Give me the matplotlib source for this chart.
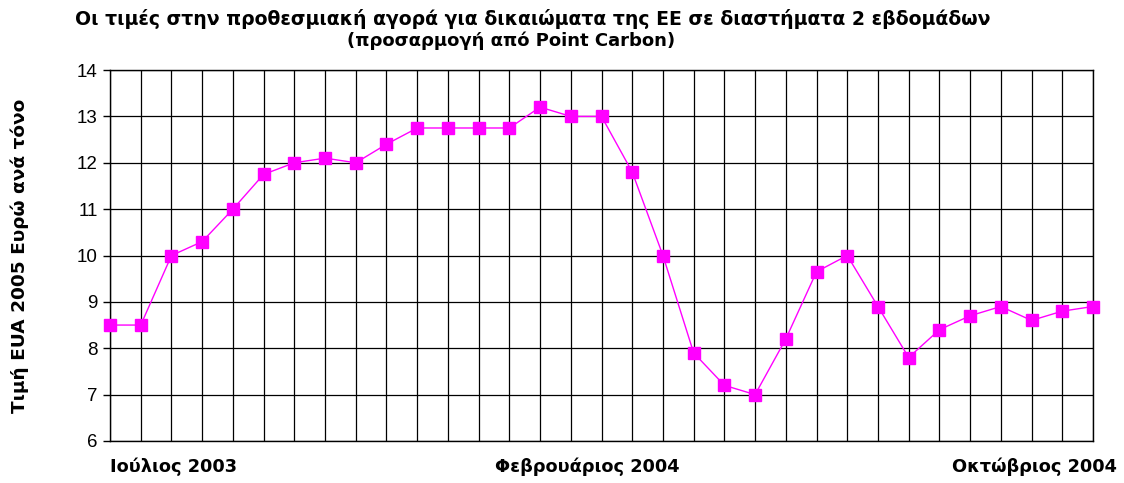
import matplotlib.pyplot as plt

plt.rcParams['font.family'] = ['Liberation Sans', 'DejaVu Sans']

# two-week intervals, Jul 2003 - Oct 2004
periods = list(range(33))
prices = [8.5, 8.5, 10.0, 10.3, 11.0, 11.75, 12.0, 12.1, 12.0, 12.4, 12.75,
          12.75, 12.75, 12.75, 13.2, 13.0, 13.0, 11.8, 10.0, 7.9, 7.2, 7.0,
          8.2, 9.65, 10.0, 8.9, 7.8, 8.4, 8.7, 8.9, 8.6, 8.8, 8.9]
yticks = [6, 7, 8, 9, 10, 11, 12, 13, 14]
month_labels = ['Ιούλιος 2003', 'Φεβρουάριος 2004', 'Οκτώβριος 2004']

wide = ['DejaVu Sans']

fig = plt.figure(figsize=(11.24, 4.83), dpi=100)
ax = fig.add_axes([0.0979, 0.087, 0.8745, 0.768])

ax.plot(periods, prices, color='#FF00FF', lw=1.0, marker='s', markersize=8.5,
        markerfacecolor='#FF00FF', markeredgecolor='#FF00FF', clip_on=False, zorder=3)

ax.set_xlim(0, 32)
ax.set_ylim(6, 14)
ax.set_yticks(yticks)
ax.set_xticks(periods)
ax.set_xticklabels([])
ax.tick_params(axis='x', length=0)
ax.tick_params(axis='y', length=5, width=1, labelsize=13.5, pad=4)
for lab in ax.get_yticklabels():
    lab.set_family('Liberation Sans')
ax.grid(True, color='black', lw=0.9)
ax.set_axisbelow(True)
for s in ax.spines.values():
    s.set_color('black')
    s.set_linewidth(1.0)

fig.text(0.0979, 0.022, month_labels[0], fontsize=12.8, fontweight='bold', ha='left', family=wide)
fig.text(0.5225, 0.022, month_labels[1], fontsize=12.8, fontweight='bold', ha='center', family=wide)
fig.text(0.994, 0.022, month_labels[2], fontsize=12.8, fontweight='bold', ha='right', family=wide)

fig.text(0.018, 0.47, 'Τιμή EUA 2005 Ευρώ ανά τόνο', rotation=90, fontsize=13.3,
         fontweight='bold', ha='center', va='center', family=wide)

fig.text(0.474, 0.982, 'Οι τιμές στην προθεσμιακή αγορά για δικαιώματα της ΕΕ σε διαστήματα 2 εβδομάδων',
         fontsize=13.6, fontweight='bold', ha='center', va='top', family=wide)
fig.text(0.455, 0.934, '(προσαρμογή από Point Carbon)', fontsize=13, fontweight='bold',
         ha='center', va='top', family=wide)

fig.savefig('out.png', dpi=100)
